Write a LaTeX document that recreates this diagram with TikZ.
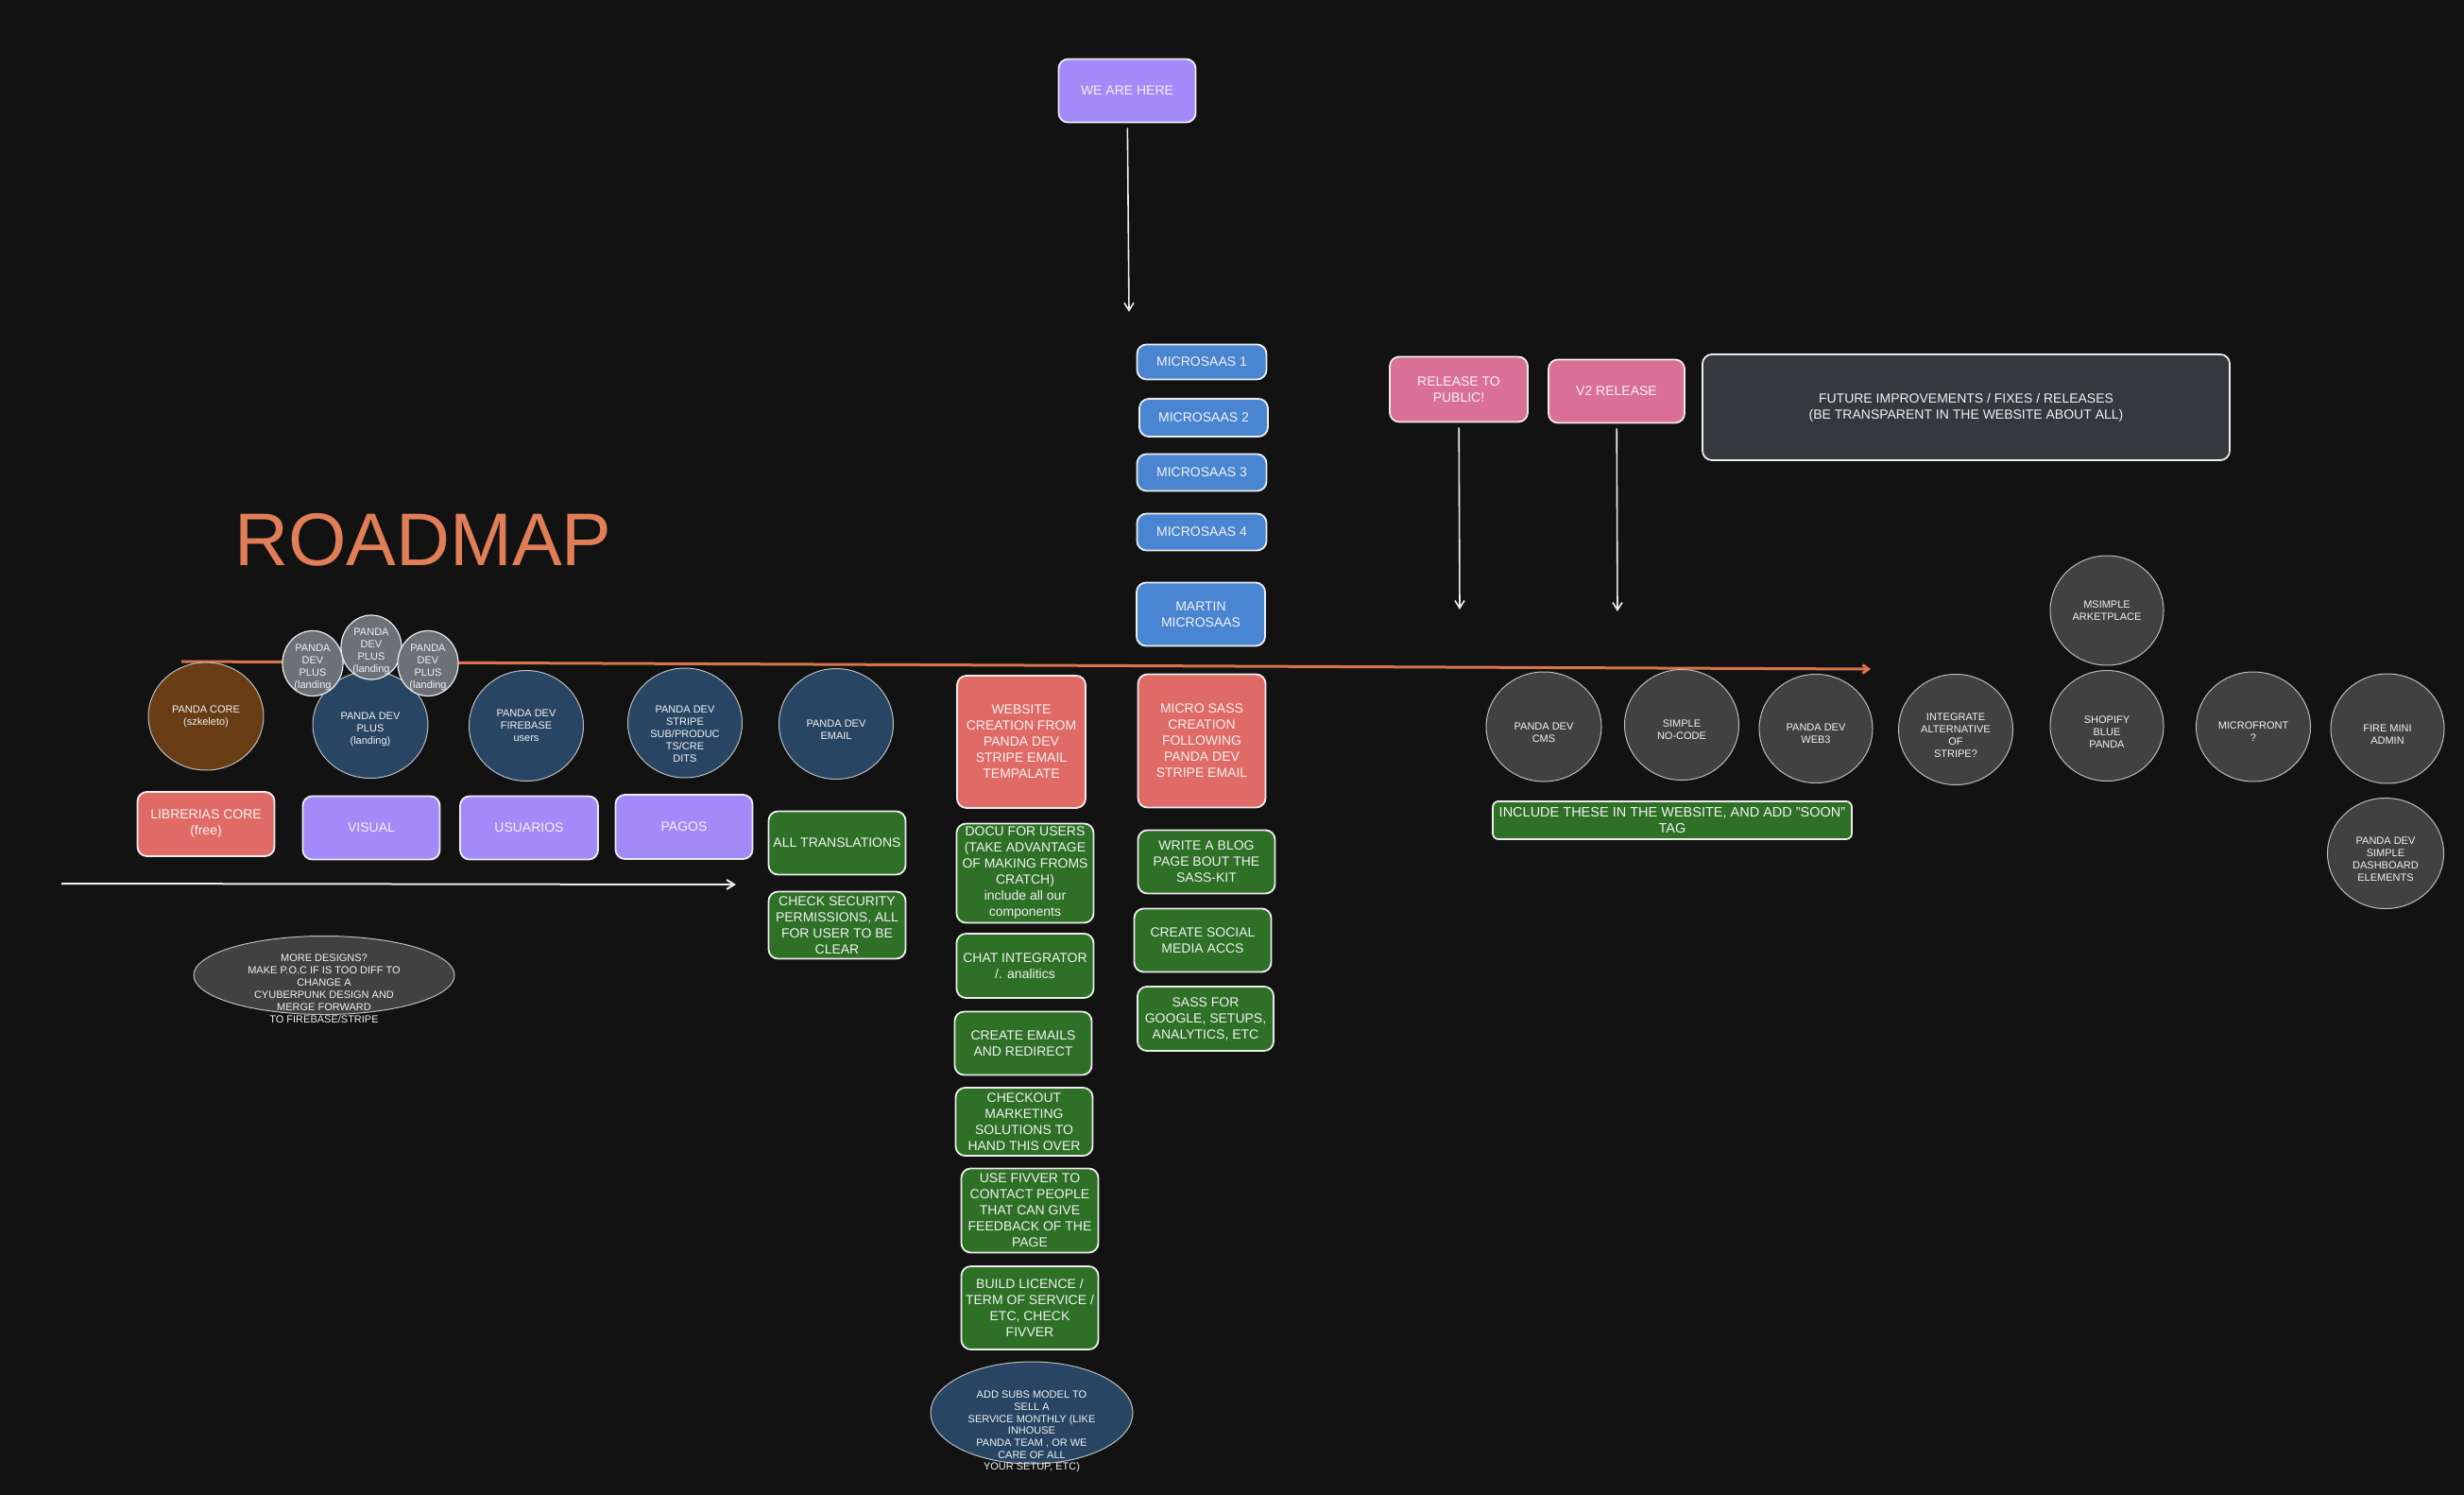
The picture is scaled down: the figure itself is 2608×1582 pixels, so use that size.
\documentclass[tikz,border=0pt]{standalone}
\usepackage{fontspec}
\setmainfont{Liberation Sans}
\usetikzlibrary{shapes.geometric,arrows.meta}
\definecolor{bg}{HTML}{121212}
\definecolor{edge}{HTML}{ECECEC}
\definecolor{cedge}{HTML}{BDBDBD}
\definecolor{txt}{HTML}{F2F2F2}
\definecolor{cred}{HTML}{E06B66}
\definecolor{cpurple}{HTML}{A48AF9}
\definecolor{cblue}{HTML}{4A85D2}
\definecolor{cgreen}{HTML}{2D7026}
\definecolor{cpink}{HTML}{DB7097}
\definecolor{cdark}{HTML}{35383D}
\definecolor{bblue}{HTML}{284564}
\definecolor{bbrown}{HTML}{683D14}
\definecolor{bgrey}{HTML}{414141}
\definecolor{sgrey}{HTML}{6C7077}
\definecolor{roadc}{HTML}{E07E58}
\definecolor{orangeline}{HTML}{D8734B}
\begin{document}
\begin{tikzpicture}[x=1pt,y=-1pt,
  boxbase/.style={rectangle, draw=edge, line width=1.8pt, rounded corners=10pt, align=center, text=txt, font=\fontsize{14}{17}\selectfont, inner sep=1pt},
  redbox/.style={boxbase, fill=cred},
  purplebox/.style={boxbase, fill=cpurple},
  bluebox/.style={boxbase, fill=cblue},
  greenbox/.style={boxbase, fill=cgreen},
  pinkbox/.style={boxbase, fill=cpink},
  darkbox/.style={boxbase, fill=cdark},
  wh/.style 2 args={minimum width=#1, minimum height=#2},
  bub/.style={ellipse, draw=cedge, line width=1pt, inner sep=0pt},
  bluebub/.style={bub, fill=bblue},
  brownbub/.style={bub, fill=bbrown},
  greybub/.style={bub, fill=bgrey},
  smallbub/.style={bub, fill=sgrey, draw=edge, line width=1.2pt},
  btxt/.style={align=center, text=txt, font=\fontsize{11}{13}\selectfont, inner sep=0pt},
  arr/.style={draw=edge, line width=1.6pt, -{Straight Barb[length=8pt,width=10pt]}},
]
\fill[bg] (0,0) rectangle (2608,1582);
\useasboundingbox (0,0) rectangle (2608,1582);

% timeline lines
\coordinate (oa) at (192,700);
\coordinate (ob) at (1980,708);
\draw[orangeline, line width=3pt, -{Straight Barb[length=6pt,width=9pt]}] (oa) -- (ob);
\coordinate (wa) at (65,935);
\coordinate (wb) at (779,936);
\draw[arr, line width=2pt] (wa) -- (wb);

% title
\node[anchor=base west, text=roadc, font=\fontsize{79}{79}\selectfont, inner sep=0pt] (title) at (248,598) {ROADMAP};

% left bubbles
\node[brownbub, wh={122}{114}, label={[btxt]center:{PANDA CORE\\(szkeleto)}}] (core) at (218,758) {};
\node[bluebub, wh={122}{113}, label={[btxt,yshift=-5]center:{PANDA DEV\\PLUS\\(landing)}}] (plus) at (392,767) {};
\node[smallbub, wh={64}{69}, label={[btxt,yshift=-4]center:{PANDA\\DEV\\PLUS\\(landing}}] (g1) at (331,702) {};
\node[smallbub, wh={64}{68}, label={[btxt,yshift=-4]center:{PANDA\\DEV\\PLUS\\(landing}}] (g2) at (393,685) {};
\node[smallbub, wh={64}{69}, label={[btxt,yshift=-4]center:{PANDA\\DEV\\PLUS\\(landing}}] (g3) at (453,702) {};
\node[bluebub, wh={121}{117}, label={[btxt]center:{PANDA DEV\\FIREBASE\\users}}] (fire) at (557,768) {};
\node[bluebub, wh={121}{116}, label={[btxt,yshift=-12]center:{PANDA DEV\\STRIPE\\SUB/PRODUC\\TS/CRE\\DITS}}] (stripe) at (725,765) {};
\node[bluebub, wh={121}{117}, label={[btxt,yshift=-6]center:{PANDA DEV\\EMAIL}}] (email) at (885,766) {};

% left boxes
\node[redbox, wh={145}{68}] (lib) at (218,872) {LIBRERIAS CORE\\(free)};
\node[purplebox, wh={145}{67}] (visual) at (393,876) {VISUAL};
\node[purplebox, wh={146}{67}] (usu) at (560,876) {USUARIOS};
\node[purplebox, wh={145}{68}] (pagos) at (724,875) {PAGOS};

\node[greybub, wh={276}{83}] (more) at (343,1032) {};
\node[btxt] (moretxt) at (343,1046) {MORE DESIGNS?\\MAKE P.O.C IF IS TOO DIFF TO\\CHANGE A\\CYUBERPUNK DESIGN AND\\MERGE FORWARD\\TO FIREBASE/STRIPE};

\node[greenbox, wh={145}{67}] (trans) at (886,892) {ALL TRANSLATIONS};
\node[greenbox, wh={145}{71}] (sec) at (886,979) {CHECK SECURITY\\PERMISSIONS, ALL\\FOR USER TO BE\\CLEAR};

% centre column
\node[purplebox, wh={145}{67}] (we) at (1193,96) {WE ARE HERE};
\coordinate (weend) at (1195,330);
\draw[arr, shorten <=5pt] (we) -- (weend);

\node[bluebox, wh={137}{37}] (ms1) at (1272,383) {MICROSAAS 1};
\node[bluebox, wh={136}{40}] (ms2) at (1274,442) {MICROSAAS 2};
\node[bluebox, wh={137}{39}] (ms3) at (1272,500) {MICROSAAS 3};
\node[bluebox, wh={137}{39}] (ms4) at (1272,563) {MICROSAAS 4};
\node[bluebox, wh={136}{67}] (martin) at (1271,650) {MARTIN\\MICROSAAS};

\node[redbox, wh={136}{140}] (web) at (1081,785) {WEBSITE\\CREATION FROM\\PANDA DEV\\STRIPE EMAIL\\TEMPALATE};
\node[redbox, wh={135}{141}] (micro) at (1272,784) {MICRO SASS\\CREATION\\FOLLOWING\\PANDA DEV\\STRIPE EMAIL};

\node[greenbox, wh={145}{105}] (docu) at (1085,924) {DOCU FOR USERS\\(TAKE ADVANTAGE\\OF MAKING FROMS\\CRATCH)\\include all our\\components};
\node[greenbox, wh={145}{68}] (chat) at (1085,1022) {CHAT INTEGRATOR\\/. analitics};
\node[greenbox, wh={145}{67}] (emails) at (1083,1104) {CREATE EMAILS\\AND REDIRECT};
\node[greenbox, wh={145}{72}] (checkout) at (1084,1187) {CHECKOUT\\MARKETING\\SOLUTIONS TO\\HAND THIS OVER};
\node[greenbox, wh={145}{89}] (fivver) at (1090,1281) {USE FIVVER TO\\CONTACT PEOPLE\\THAT CAN GIVE\\FEEDBACK OF THE\\PAGE};
\node[greenbox, wh={145}{88}] (licence) at (1090,1384) {BUILD LICENCE /\\TERM OF SERVICE /\\ETC, CHECK\\FIVVER};

\node[bluebub, wh={214}{108}] (subs) at (1092,1495) {};
\node[btxt, font=\fontsize{11}{12.7}\selectfont] (substxt) at (1092,1515) {ADD SUBS MODEL TO\\SELL A\\SERVICE MONTHLY (LIKE\\INHOUSE\\PANDA TEAM , OR WE\\CARE OF ALL\\YOUR SETUP, ETC)};

\node[greenbox, wh={145}{67}] (blog) at (1277,912) {WRITE A BLOG\\PAGE BOUT THE\\SASS-KIT};
\node[greenbox, wh={145}{67}] (social) at (1273,995) {CREATE SOCIAL\\MEDIA ACCS};
\node[greenbox, wh={144}{68}] (google) at (1276,1078) {SASS FOR\\GOOGLE, SETUPS,\\ANALYTICS, ETC};

% releases
\node[pinkbox, wh={146}{69}] (rel) at (1544,412) {RELEASE TO\\PUBLIC!};
\node[pinkbox, wh={144}{67}] (v2) at (1711,414) {V2 RELEASE};
\node[darkbox, wh={558}{112}] (future) at (2081,431) {FUTURE IMPROVEMENTS / FIXES / RELEASES\\(BE TRANSPARENT IN THE WEBSITE ABOUT ALL)};
\coordinate (relend) at (1545,645);
\coordinate (v2end) at (1712,647);
\draw[arr, shorten <=5pt] (rel) -- (relend);
\draw[arr, shorten <=5pt] (v2) -- (v2end);

% right bubbles
\node[greybub, wh={122}{116}, label={[btxt,yshift=-6]center:{PANDA DEV\\CMS}}] (cms) at (1634,769) {};
\node[greybub, wh={121}{117}, label={[btxt,yshift=-5]center:{SIMPLE\\NO-CODE}}] (nocode) at (1780,767) {};
\node[greybub, wh={120}{115}, label={[btxt,yshift=-5]center:{PANDA DEV\\WEB3}}] (web3) at (1922,771) {};
\node[greybub, wh={121}{117}, label={[btxt,yshift=-6]center:{INTEGRATE\\ALTERNATIVE\\OF\\STRIPE?}}] (integ) at (2070,772) {};
\node[greybub, wh={120}{117}, label={[btxt,yshift=-7]center:{SHOPIFY\\BLUE\\PANDA}}] (shopify) at (2230,768) {};
\node[greybub, wh={120}{116}, label={[btxt]center:{MSIMPLE\\ARKETPLACE}}] (market) at (2230,646) {};
\node[greybub, wh={121}{116}, label={[btxt,yshift=-5]center:{MICROFRONT\\?}}] (mfront) at (2385,769) {};
\node[greybub, wh={120}{116}, label={[btxt,yshift=-6]center:{FIRE MINI\\ADMIN}}] (firemini) at (2527,771) {};
\node[greybub, wh={123}{117}, label={[btxt,yshift=-6]center:{PANDA DEV\\SIMPLE\\DASHBOARD\\ELEMENTS}}] (dash) at (2525,903) {};

\node[greenbox, wh={380}{40}, rounded corners=6pt, inner sep=0pt, font=\fontsize{14.5}{17}\selectfont] (include) at (1770,868) {INCLUDE THESE IN THE WEBSITE, AND ADD "SOON"\\TAG};
\end{tikzpicture}
\end{document}
